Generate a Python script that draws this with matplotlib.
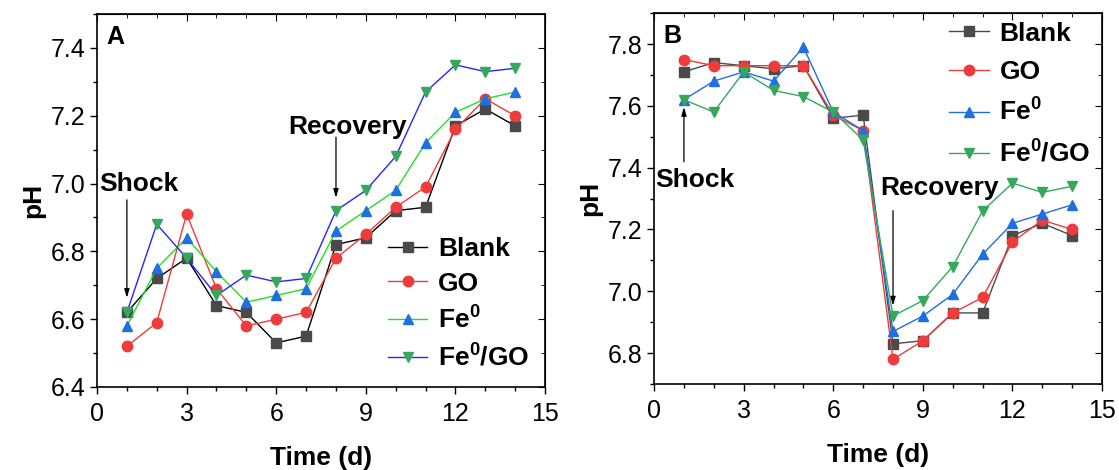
"""pH over time, two panels (A, B) with shock/recovery markers."""

import matplotlib

matplotlib.use("Agg")
import matplotlib.pyplot as plt
from matplotlib.ticker import FormatStrFormatter, MultipleLocator

plt.rcParams["font.family"] = ["Liberation Sans", "DejaVu Sans"]
plt.rcParams["mathtext.fontset"] = "custom"
plt.rcParams["mathtext.rm"] = "Liberation Sans:bold"
plt.rcParams["mathtext.bf"] = "Liberation Sans:bold"
plt.rcParams["mathtext.default"] = "rm"

days = list(range(1, 15))
series_names = ["Blank", "GO", "Fe$^0$", "Fe$^0$/GO"]

# panel A
ph_a_blank = [6.62, 6.72, 6.78, 6.64, 6.62, 6.53, 6.55, 6.82, 6.84, 6.92, 6.93, 7.17, 7.22, 7.17]
ph_a_go = [6.52, 6.59, 6.91, 6.69, 6.58, 6.60, 6.62, 6.78, 6.85, 6.93, 6.99, 7.16, 7.25, 7.20]
ph_a_fe = [6.58, 6.75, 6.84, 6.74, 6.65, 6.67, 6.69, 6.86, 6.92, 6.98, 7.12, 7.21, 7.25, 7.27]
ph_a_fego = [6.62, 6.88, 6.78, 6.67, 6.73, 6.71, 6.72, 6.92, 6.98, 7.08, 7.27, 7.35, 7.33, 7.34]

# panel B
ph_b_blank = [7.71, 7.74, 7.73, 7.72, 7.73, 7.56, 7.57, 6.83, 6.84, 6.93, 6.93, 7.18, 7.22, 7.18]
ph_b_go = [7.75, 7.73, 7.73, 7.73, 7.73, 7.57, 7.52, 6.78, 6.84, 6.93, 6.98, 7.16, 7.23, 7.20]
ph_b_fe = [7.62, 7.68, 7.71, 7.68, 7.79, 7.58, 7.52, 6.87, 6.92, 6.99, 7.12, 7.22, 7.25, 7.28]
ph_b_fego = [7.62, 7.58, 7.71, 7.65, 7.63, 7.58, 7.49, 6.92, 6.97, 7.08, 7.26, 7.35, 7.32, 7.34]

GRAY = "#4a4a4a"
RED = "#ee3b3b"
BLUE = "#1f6fe0"
GREEN = "#35a85c"

markers = ["s", "o", "^", "v"]
marker_colors = [GRAY, RED, BLUE, GREEN]
line_colors_a = ["black", RED, "#22e022", "#2525ff"]
line_colors_b = [GRAY, RED, BLUE, GREEN]

fig = plt.figure(figsize=(11.19, 4.70), dpi=100)
ax_a = fig.add_axes([0.0867, 0.1766, 0.4004, 0.7936])
ax_b = fig.add_axes([0.5845, 0.183, 0.4004, 0.789])


def style_axis(ax, ylo, yhi):
    ax.set_xlim(0, 15)
    ax.set_ylim(ylo, yhi)
    ax.xaxis.set_major_locator(MultipleLocator(3))
    ax.xaxis.set_minor_locator(MultipleLocator(1))
    ax.yaxis.set_major_locator(MultipleLocator(0.2))
    ax.yaxis.set_minor_locator(MultipleLocator(0.1))
    ax.yaxis.set_major_formatter(FormatStrFormatter("%.1f"))
    ax.tick_params(which="both", direction="out", top=False, right=False, width=1.0)
    ax.tick_params(which="major", length=5, labelsize=18)
    ax.tick_params(axis="x", which="major", pad=6)
    ax.tick_params(which="minor", length=3)
    sec_x = ax.secondary_xaxis("top")
    sec_x.xaxis.set_major_locator(MultipleLocator(3))
    sec_x.xaxis.set_minor_locator(MultipleLocator(1))
    sec_x.tick_params(which="both", direction="in", labeltop=False)
    sec_x.tick_params(which="major", length=5)
    sec_x.tick_params(which="minor", length=3)
    sec_y = ax.secondary_yaxis("right")
    sec_y.yaxis.set_major_locator(MultipleLocator(0.2))
    sec_y.yaxis.set_minor_locator(MultipleLocator(0.1))
    sec_y.tick_params(which="both", direction="in", labelright=False)
    sec_y.tick_params(which="major", length=5)
    sec_y.tick_params(which="minor", length=3)
    for side in ax.spines.values():
        side.set_linewidth(1.2)
    ax.set_xlabel("Time (d)", fontsize=19, fontweight="bold", labelpad=14)
    ax.set_ylabel("pH", fontsize=19, fontweight="bold", labelpad=4)


def draw_series(ax, data, line_colors):
    for vals, name, mk, mc, lc in zip(data, series_names, markers, marker_colors, line_colors):
        ax.plot(days, vals, color=lc, lw=1.0, marker=mk, markersize=7.5,
                markerfacecolor=mc, markeredgecolor=mc, label=name)


arrow_kw = dict(arrowstyle="-|>,head_length=0.5,head_width=0.15", color="black", lw=0.9)
note_font = dict(fontsize=19, fontweight="bold")
legend_font = {"size": 19, "weight": "bold"}

# --- A ---
draw_series(ax_a, [ph_a_blank, ph_a_go, ph_a_fe, ph_a_fego], line_colors_a)
style_axis(ax_a, 6.4, 7.5)
ax_a.text(0.02, 0.97, "A", transform=ax_a.transAxes, fontsize=18,
          fontweight="bold", va="top", ha="left")
ax_a.annotate("", xy=(1.0, 6.655), xytext=(1.0, 6.96), arrowprops=arrow_kw)
ax_a.text(0.08, 7.0, "Shock", va="center", ha="left", **note_font)
ax_a.annotate("", xy=(8.0, 6.95), xytext=(8.0, 7.145), arrowprops=arrow_kw)
ax_a.text(8.4, 7.167, "Recovery", va="center", ha="center", **note_font)
ax_a.legend(loc="lower right", bbox_to_anchor=(1.0, 0.0), frameon=False, prop=legend_font,
            handlelength=1.5, handletextpad=0.4, labelspacing=0.4, borderaxespad=0.2)

# --- B ---
draw_series(ax_b, [ph_b_blank, ph_b_go, ph_b_fe, ph_b_fego], line_colors_b)
style_axis(ax_b, 6.7, 7.9)
ax_b.text(0.02, 0.97, "B", transform=ax_b.transAxes, fontsize=18,
          fontweight="bold", va="top", ha="left")
ax_b.annotate("", xy=(1.0, 7.605), xytext=(1.0, 7.41), arrowprops=arrow_kw)
ax_b.text(0.03, 7.36, "Shock", va="center", ha="left", **note_font)
ax_b.annotate("", xy=(8.0, 6.945), xytext=(8.0, 7.27), arrowprops=arrow_kw)
ax_b.text(9.54, 7.335, "Recovery", va="center", ha="center", **note_font)
ax_b.legend(loc="upper right", bbox_to_anchor=(1.01, 1.02), frameon=False, prop=legend_font,
            handlelength=1.5, handletextpad=0.4, labelspacing=0.55, borderaxespad=0.2)

fig.savefig("out.png", dpi=100)
plt.close(fig)
